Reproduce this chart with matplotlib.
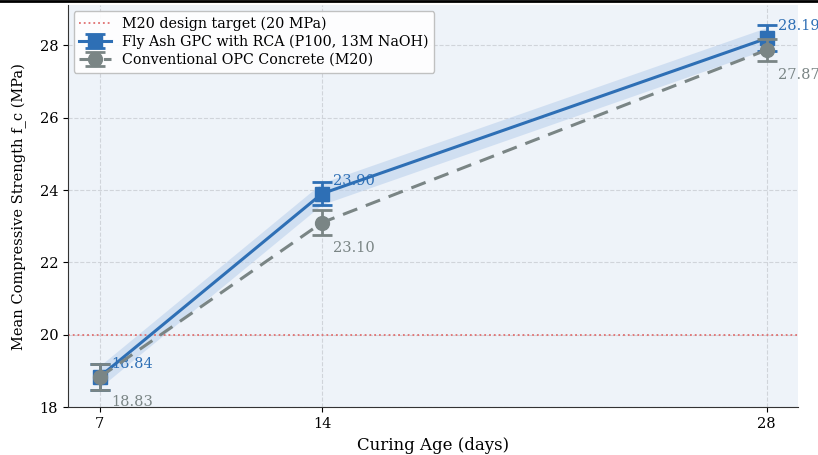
import numpy as np
import matplotlib.pyplot as plt
from matplotlib.lines import Line2D

plt.rcParams['font.family'] = 'DejaVu Serif'

# Data
ages = [7, 14, 28]
gpc_mean = [18.84, 23.90, 28.19]
gpc_err = [0.36, 0.32, 0.36]
opc_mean = [18.83, 23.10, 27.87]
opc_err = [0.36, 0.34, 0.30]
gpc_band = [0.30, 0.30, 0.30]
target = 20

blue = '#2e6fb5'
grey = '#7a8585'

fig = plt.figure(figsize=(8.18, 4.55), dpi=100)
ax = fig.add_axes([0.083, 0.105, 0.893, 0.883])
ax.set_facecolor('#eef3f9')

ax.axhline(target, color='#e07070', linestyle=':', linewidth=1.3,
           label='M20 design target (20 MPa)')

ages_a = np.array(ages)
gm = np.array(gpc_mean)
gb = np.array(gpc_band)
ax.fill_between(ages_a, gm - gb, gm + gb, color='#b9cfec', alpha=0.55, linewidth=0)

ax.errorbar(ages, gpc_mean, yerr=gpc_err, color=blue, marker='s', markersize=10,
            linewidth=2.2, capsize=7, capthick=2, elinewidth=2,
            label='Fly Ash GPC with RCA (P100, 13M NaOH)', zorder=4)
ax.errorbar(ages, opc_mean, yerr=opc_err, color=grey, marker='o', markersize=10,
            linewidth=2.2, linestyle='--', dashes=(5, 3), capsize=7, capthick=2,
            elinewidth=2, label='Conventional OPC Concrete (M20)', zorder=5)

for x, y in zip(ages, gpc_mean):
    ax.annotate(f'{y:.2f}', (x, y), xytext=(8, 4), textcoords='offset points',
                color=blue, fontsize=10.5, ha='left', va='bottom')
for x, y in zip(ages, opc_mean):
    ax.annotate(f'{y:.2f}', (x, y), xytext=(8, -13), textcoords='offset points',
                color=grey, fontsize=10.5, ha='left', va='top')

ax.set_xlim(6, 29)
ax.set_ylim(18, 29.1)
ax.set_xticks(ages)
ax.set_yticks([18, 20, 22, 24, 26, 28])
ax.tick_params(labelsize=10.5)
ax.grid(True, linestyle='--', color='#d0d4da', linewidth=0.8)
ax.set_axisbelow(True)
for s in ['top', 'right']:
    ax.spines[s].set_visible(False)
ax.spines['left'].set_color('#333333')
ax.spines['bottom'].set_color('#333333')

ax.set_xlabel('Curing Age (days)', fontsize=12)
ax.set_ylabel('Mean Compressive Strength f_c (MPa)', fontsize=10.5, labelpad=9)

ax.legend(loc='upper left', fontsize=10.3, frameon=True, framealpha=0.9,
          borderaxespad=0.4, handlelength=2.2, labelspacing=0.25,
          edgecolor='#bbbbbb')

fig.add_artist(Line2D([0, 1], [0.998, 0.998], color='black', linewidth=2,
                      transform=fig.transFigure))

fig.savefig('out.png', dpi=100)
